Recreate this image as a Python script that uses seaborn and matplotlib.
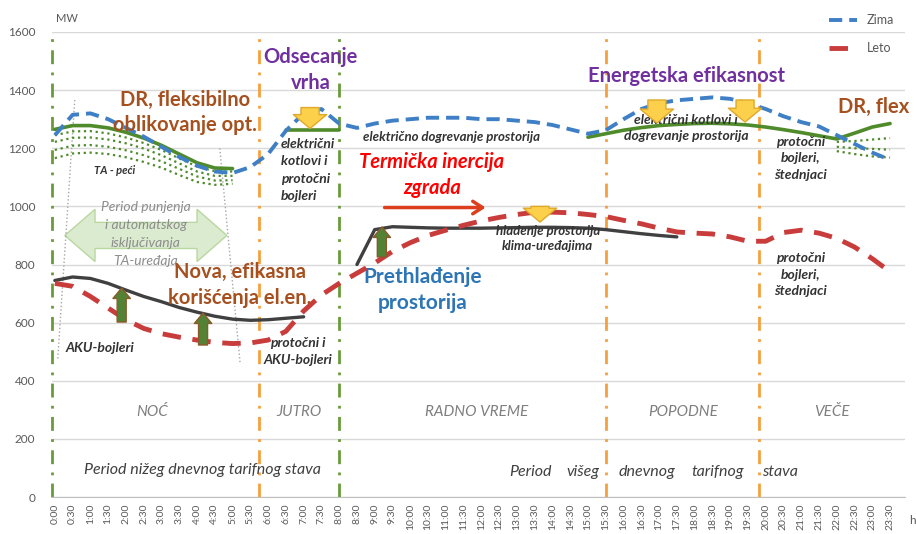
import numpy as np
import pandas as pd
import matplotlib
matplotlib.use('Agg')
import matplotlib.pyplot as plt
import seaborn as sns
from matplotlib.patches import Polygon

# half-hour steps of the day
hours = np.arange(0, 24, 0.5)
time_labels = ['%d:%s' % (int(h), '30' if h % 1 else '00') for h in hours]

# winter / summer load curves (MW)
zima = [1245, 1315, 1320, 1300, 1270, 1240, 1205, 1170, 1140, 1120, 1115, 1135,
        1180, 1260, 1320, 1335, 1285, 1270, 1285, 1295, 1300, 1305, 1305, 1305,
        1300, 1300, 1295, 1290, 1280, 1265, 1250, 1262, 1300, 1335, 1355, 1365,
        1370, 1375, 1370, 1355, 1335, 1310, 1290, 1275, 1245, 1215, 1185, 1160]
leto = [735, 725, 690, 650, 610, 580, 562, 550, 540, 532, 528, 530,
        540, 570, 640, 695, 735, 770, 805, 845, 875, 900, 918, 935,
        950, 962, 972, 980, 980, 978, 972, 965, 952, 940, 925, 912,
        908, 905, 895, 880, 880, 910, 918, 908, 890, 860, 820, 775]

# winter DR curves (green)
dr_night_h = hours[0:11]
dr_night = [1265, 1278, 1278, 1270, 1255, 1235, 1210, 1180, 1150, 1132, 1130]
dr_night_dots = [
    [1245, 1258, 1259, 1251, 1237, 1218, 1194, 1165, 1137, 1121, 1120],
    [1222, 1236, 1237, 1230, 1217, 1199, 1176, 1148, 1120, 1105, 1105],
    [1194, 1209, 1211, 1205, 1193, 1176, 1155, 1129, 1103, 1089, 1090],
    [1166, 1182, 1185, 1180, 1169, 1153, 1133, 1108, 1084, 1074, 1078],
]
dr_morning_h = hours[13:17]
dr_morning = [1262, 1262, 1262, 1262]
dr_evening_h = hours[30:48]
dr_evening = [1238, 1250, 1262, 1271, 1278, 1282, 1285, 1286, 1284, 1280,
              1273, 1264, 1254, 1243, 1232, 1252, 1273, 1285]
flex_h = hours[44:48]
flex_dots = [
    [1222, 1225, 1230, 1235],
    [1205, 1200, 1198, 1195],
    [1190, 1180, 1172, 1168],
]

# summer DR curves (dark gray)
leto_night_h = hours[0:15]
leto_night = [745, 757, 752, 735, 712, 690, 672, 652, 636, 622, 612, 608, 610, 615, 620]
leto_day_h = hours[17:36]
leto_day = [800, 920, 930, 928, 926, 925, 925, 925, 926, 927, 928, 928, 927,
            925, 920, 913, 906, 900, 895]

# period dividers
green_div = [-0.08, 8.0]
orange_div = [5.75, 15.5, 19.8]
periods = ['NOĆ', 'JUTRO', 'RADNO VREME', 'POPODNE', 'VEČE']
period_x = [2.73, 6.87, 11.88, 17.68, 21.87]

sns.set_style('white')
plt.rcParams['font.family'] = ['Lato', 'DejaVu Sans']

fig = plt.figure(figsize=(9.16, 5.34), dpi=100)
ax = fig.add_axes([52 / 916, 37 / 534, 853 / 916, 465 / 534])

ax.set_xlim(-0.08, 23.92)
ax.set_ylim(0, 1600)
ax.set_yticks(range(0, 1601, 200))
ax.yaxis.grid(True, color='#d9d9d9', lw=1)
ax.xaxis.grid(False)
for s in ['top', 'right', 'left']:
    ax.spines[s].set_visible(False)
ax.spines['bottom'].set_color('#bfbfbf')
ax.set_xticks(hours)
ax.set_xticklabels(time_labels, rotation=90, fontsize=7.5, color='#595959')
ax.tick_params(axis='x', length=3, color='#bfbfbf', pad=2)
ax.tick_params(axis='y', length=0, labelsize=8.5, labelcolor='#595959', pad=12)

for x in green_div:
    ax.axvline(x, color='#6a9a3a', lw=2, linestyle=(0, (5, 3, 1, 3)), clip_on=False, zorder=1)
for x in orange_div:
    ax.axvline(x, color='#f5a03c', lw=2, linestyle=(0, (5, 3, 1, 3)), zorder=1)

# charging-period double arrow
ax.add_patch(Polygon([(0.28, 900), (1.13, 990), (1.13, 945), (4.0, 945), (4.0, 990),
                      (4.84, 900), (4.0, 810), (4.0, 855), (1.13, 855), (1.13, 810)],
                     closed=True, fc='#dbebcf', ec='#b9d7a0', lw=1, zorder=1))
ax.text(2.56, 905, 'Period punjenja\ni automatskog\nisključivanja\nTA-uređaja', ha='center',
        va='center', fontsize=10, style='italic', color='#8c8c8c', linespacing=1.6, zorder=2)
ax.plot([0.56, 0.08], [1366, 471], color='#a6a6a6', lw=1, ls=':')
ax.plot([4.64, 5.21], [1200, 464], color='#a6a6a6', lw=1, ls=':')

# main curves
sns.lineplot(x=hours, y=zima, ax=ax, color='#3f7fc6', lw=2.8, linestyle=(0, (3.4, 1.8)),
             label='Zima', zorder=4)
sns.lineplot(x=hours, y=leto, ax=ax, color='#c93c3c', lw=3.5, linestyle=(0, (3.8, 2.4)),
             label='Leto', zorder=4)

green = '#4f8a2b'
sns.lineplot(x=dr_night_h, y=dr_night, ax=ax, color=green, lw=2.6, zorder=3)
for d in dr_night_dots:
    sns.lineplot(x=dr_night_h, y=d, ax=ax, color=green, lw=1.6, linestyle=':', zorder=3)
sns.lineplot(x=dr_morning_h, y=dr_morning, ax=ax, color=green, lw=2.6, zorder=3)
sns.lineplot(x=dr_evening_h, y=dr_evening, ax=ax, color=green, lw=2.6, zorder=3)
for d in flex_dots:
    sns.lineplot(x=flex_h, y=d, ax=ax, color=green, lw=1.6, linestyle=':', zorder=3)

sns.lineplot(x=leto_night_h, y=leto_night, ax=ax, color='#404040', lw=2.4, zorder=3)
sns.lineplot(x=leto_day_h, y=leto_day, ax=ax, color='#404040', lw=2.4, zorder=3)

handles, labels = ax.get_legend_handles_labels()
ax.legend(handles[:2], labels[:2], loc='upper left', bbox_to_anchor=(818 / 916, 1 - 3 / 534),
          bbox_transform=fig.transFigure, frameon=False, fontsize=9, labelcolor='#595959',
          handlelength=2.2, labelspacing=1.3)


def block_arrow(x, y0, y1, fc, ec, ms, hw, hl, tw):
    ax.annotate('', xy=(x, y1), xytext=(x, y0),
                arrowprops=dict(arrowstyle='simple,head_length=%s,head_width=%s,tail_width=%s' % (hl, hw, tw),
                                fc=fc, ec=ec, lw=1, mutation_scale=ms, shrinkA=0, shrinkB=0),
                zorder=5)


# yellow (down) arrows
for x, y0, y1 in [(7.18, 1340, 1268), (16.94, 1366, 1287), (19.42, 1366, 1290), (13.65, 1000, 946)]:
    block_arrow(x, y0, y1, '#fcd04b', '#e0a92a', 20, 1.2, 0.5, 0.65)
# green (up) arrows
for x, y0, y1 in [(1.88, 602, 719), (4.17, 523, 633), (9.2, 826, 929)]:
    block_arrow(x, y0, y1, '#548235', '#8b5a2b', 10, 1.25, 0.75, 0.65)

# red inertia arrow
ax.annotate('', xy=(12.2, 996), xytext=(9.2, 996),
            arrowprops=dict(arrowstyle='->,head_length=0.7,head_width=0.45', color='#dd3f1e', lw=2.5))

brown = '#a5501e'
purple = '#7030a0'
small = dict(fontsize=10, fontweight='bold', style='italic', color='#333333', linespacing=1.45)
big = dict(fontsize=14.5, fontweight='bold', linespacing=1.35)

ax.text(3.66, 1323, 'DR, fleksibilno\noblikovanje opt.', ha='center', va='center', color=brown, zorder=6, **big)
ax.text(1.69, 1125, 'TA - peći', ha='center', va='center', fontsize=8, fontweight='bold',
        style='italic', color='#333333')
ax.text(6.36, 1125, 'električni\nkotlovi i\nprotočni\nbojleri', ha='left', va='center',
        fontsize=10, fontweight='bold', style='italic', color='#333333', linespacing=1.55)
ax.text(7.2, 1469, 'Odsecanje\nvrha', ha='center', va='center', color=purple, **big)
ax.text(11.17, 1238, 'električno dogrevanje prostorija', ha='center', va='center', fontsize=9.5,
        fontweight='bold', style='italic', color='#333333')
ax.text(10.61, 1108, 'Termička inercija\nzgrada', ha='center', va='center', color='#ff0000',
        fontsize=14.5, fontweight='bold', style='italic', linespacing=1.35)
ax.text(13.87, 891, 'hlađenje prostorija\nklima-uređajima', ha='center', va='center',
        fontsize=9.5, fontweight='bold', style='italic', color='#333333', linespacing=1.3)
ax.text(10.36, 712, 'Prethlađenje\nprostorija', ha='center', va='center', color='#2e75b6',
        fontsize=15, fontweight='bold', linespacing=1.35)
ax.text(5.21, 729, 'Nova, efikasna\nkorišćenja el.en.', ha='center', va='center', color=brown, zorder=6, **big)
ax.text(1.27, 513, 'AKU-bojleri', ha='center', va='center', **small)
ax.text(6.84, 500, 'protočni i\nAKU-bojleri', ha='center', va='center', **small)
ax.text(17.76, 1448, 'Energetska efikasnost', ha='center', va='center', color=purple, **big)
ax.text(17.76, 1269, 'električni kotlovi i\ndogrevanje prostorija', ha='center', va='center', **small)
ax.text(20.97, 1166, 'protočni\nbojleri,\nštednjaci', ha='center', va='center', **small)
ax.text(20.97, 764, 'protočni\nbojleri,\nštednjaci', ha='center', va='center', **small)
ax.text(23.03, 1342, 'DR, flex', ha='center', va='center', color=brown, **big)

for name, x in zip(periods, period_x):
    ax.text(x, 292, name, ha='center', va='center', fontsize=11, style='italic', color='#7f7f7f')

ax.text(4.14, 93, 'Period nižeg dnevnog tarifnog stava', ha='center', va='center',
        fontsize=11.5, style='italic', color='#404040')
for word, x in zip(['Period', 'višeg', 'dnevnog', 'tarifnog', 'stava'], [13.37, 14.86, 16.66, 18.66, 20.4]):
    ax.text(x, 86, word, ha='center', va='center', fontsize=11.5, style='italic', color='#404040')

fig.text(67 / 916, 1 - 18 / 534, 'MW', ha='center', va='center', fontsize=8, color='#595959')
fig.text(912 / 916, 1 - 520 / 534, 'h', ha='center', va='center', fontsize=8.5, color='#595959')

fig.savefig('out.png', dpi=100)
